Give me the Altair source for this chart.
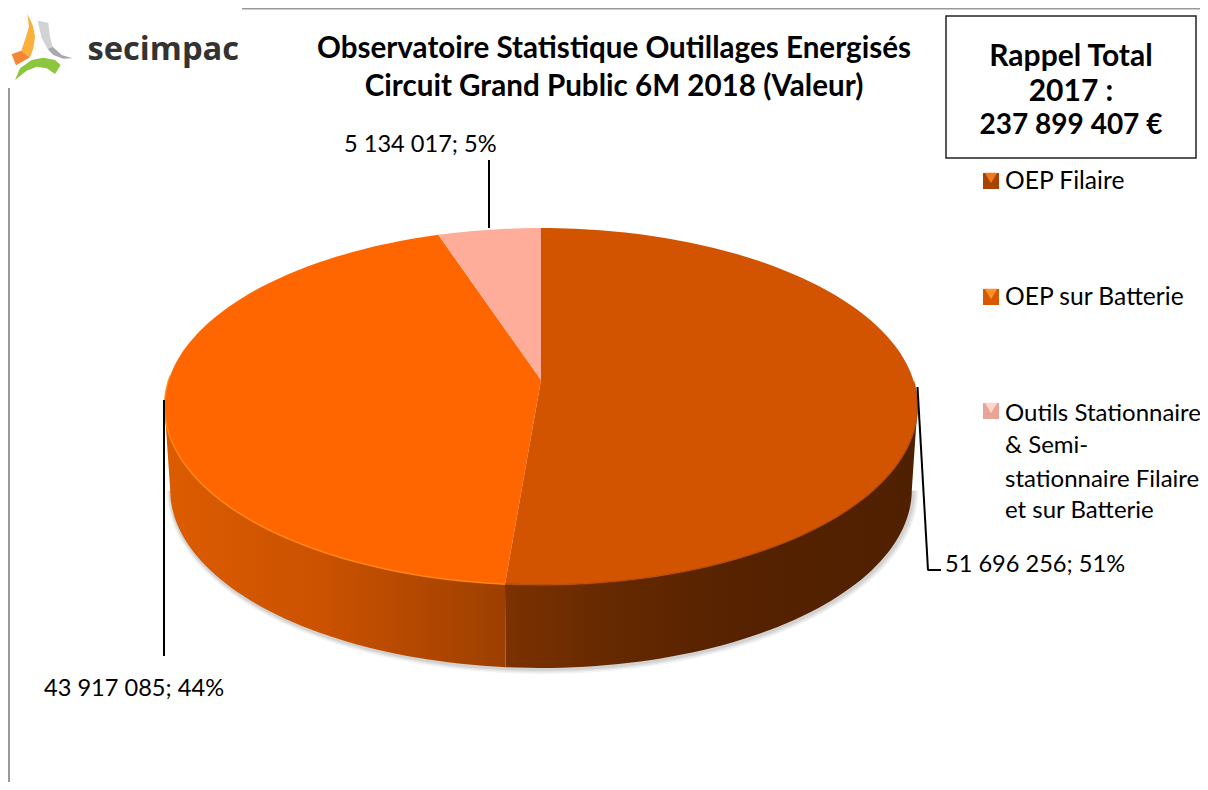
import numpy as np
import pandas as pd
import altair as alt

# ---- chart values ----
categories = ["OEP Filaire", "OEP sur Batterie", "Outils Stationnaire & Semi-stationnaire Filaire et sur Batterie"]
values = [51696256, 43917085, 5134017]
slice_colors = ["#D35400", "#FF6600", "#FFAD9B"]
title_lines = ["Observatoire Statistique Outillages Energisés", "Circuit Grand Public 6M 2018 (Valeur)"]
box_lines = ["Rappel Total", "2017 :", "237 899 407 €"]
label_texts = ["51 696 256; 51%", "43 917 085; 44%", "5 134 017; 5%"]
legend_lines = [["OEP Filaire"], ["OEP sur Batterie"],
                ["Outils Stationnaire", "& Semi-", "stationnaire Filaire", "et sur Batterie"]]

# ---- logo outlines (reference pixels x3) ----
logo_shapes = [
    ("#FBB03B", [(82,42),(98,75),(105,110),(100,145),(90,172),(64,152),(78,110),(87,80)]),
    ("#F58634", [(64,152),(90,172),(48,196),(35,163)]),
    ("#D2D3D5", [(113,62),(145,68),(150,110),(158,140),(143,147),(125,115)]),
    ("#A7A9AC", [(143,147),(158,140),(185,165),(218,175),(190,176),(160,165)]),
    ("#8CC63F", [(45,240),(60,205),(95,180),(130,173),(165,180),(182,195),(165,222),(140,205),(110,200),(80,212)]),
]

FONT = "Lato"
W, H = 1192, 774
A, B, CX, CY, K = 372.3, 174.5, 541.0, 380.0, 0.1486
DEPTH = 83.0 / B
SHRINK = 0.985

xscale = alt.Scale(domain=[(8 - CX) / A, (8 + W - CX) / A], nice=False, zero=False)
yscale = alt.Scale(domain=[(8 - CY) / B, (8 + H - CY) / B], nice=False, zero=False, reverse=True)


def rim(t0, t1, step=1.5):
    n = max(2, int(abs(t1 - t0) / step) + 1)
    t = np.radians(np.linspace(t0, t1, n))
    u, v = np.sin(t), -np.cos(t)
    w = 1 - K * v
    return u / w, v / w


def frame(px, py):
    return pd.DataFrame({"px": px, "py": py, "i": np.arange(len(px))})


def enc(ch):
    return ch.encode(
        x=alt.X("px:Q", scale=xscale, axis=None),
        y=alt.Y("py:Q", scale=yscale, axis=None),
        order="i:Q",
    )


def poly(px, py, fill):
    return enc(alt.Chart(frame(px, py)).mark_line(fill=fill, strokeWidth=0, stroke="transparent"))


def stroke(px, py, color, width, opacity=1.0):
    return enc(alt.Chart(frame(px, py)).mark_line(color=color, strokeWidth=width, opacity=opacity))


def grad(stops):
    return {"gradient": "linear", "x1": 0, "y1": 0, "x2": 1, "y2": 0,
            "stops": [{"offset": o, "color": c} for o, c in stops]}


def text(s, x, y, size, weight="normal", align="left", color="black", font=FONT):
    return alt.Chart(alt.Data(values=[{"t": s}])).mark_text(
        font=font, fontSize=size, fontWeight=weight, align=align, baseline="middle", color=color
    ).encode(x=alt.value(x - 8), y=alt.value(y - 6), text="t:N")


def rule(x1, y1, x2, y2, color="black", width=2):
    return alt.Chart(alt.Data(values=[{"a": 1}])).mark_rule(color=color, strokeWidth=width).encode(
        x=alt.value(x1 - 8), x2=alt.value(x2 - 8), y=alt.value(y1 - 8), y2=alt.value(y2 - 8))


layers = []

# frame rules
layers.append(rule(242, 8.7, 1200, 8.7, "#9A9A9A", 1.4))
layers.append(rule(9, 88, 9, 782, "#777777", 1.5))

# logo
for col, pts in logo_shapes:
    px = [(p[0] / 3 - CX) / A for p in pts]
    py = [(p[1] / 3 - CY) / B for p in pts]
    layers.append(poly(px, py, col))
layers.append(text("secimpac", 87.5, 48, 32.7, 700, color="#333333", font="Open Sans"))

# pie geometry from the values
total = sum(values)
ang = np.concatenate([[0], np.cumsum(values) / total * 360])
t_r = np.degrees(np.arccos(-K))
t_l = 360 - t_r
t_split = ang[1]

# shadow under the pie
sx, sy = rim(t_r, t_l)
for width, op, dx, dy in [(10, 0.07, 1.5, 1), (7, 0.09, 1.5, 1), (4, 0.13, 1, 1)]:
    layers.append(stroke(sx * SHRINK + dx / A, sy + DEPTH + dy / B, "#555555", width, op))

# walls
x1, y1 = rim(t_r, t_split)
layers.append(poly(np.r_[x1, x1[::-1] * SHRINK], np.r_[y1, y1[::-1] + DEPTH],
                   grad([(0, "#7C3100"), (0.25, "#662900"), (0.55, "#562200"), (1, "#4F2000")])))
x2, y2 = rim(t_split, t_l)
layers.append(poly(np.r_[x2, x2[::-1] * SHRINK], np.r_[y2, y2[::-1] + DEPTH],
                   grad([(0, "#DC5C00"), (0.45, "#CC5200"), (0.8, "#AE4600"), (1, "#9C3F00")])))

# top face
for a0, a1, col in zip(ang[:-1], ang[1:], slice_colors):
    rx, ry = rim(a0, a1)
    layers.append(poly(np.r_[0, rx, 0], np.r_[0, ry, 0], col))

# rim highlights
hx, hy = rim(t_split, t_l + 10)
layers.append(stroke(hx, hy, "#FF8A14", 1.5, 0.9))
hx, hy = rim(t_r - 8, t_split)
layers.append(stroke(hx, hy, "#A84400", 1.5, 0.7))

# leader lines
layers.append(rule(489, 160, 489, 228))
layers.append(rule(164, 400, 164, 656))
layers.append(rule(917.5, 387, 928, 570))
layers.append(rule(927.5, 570, 941, 570))

# data labels
layers.append(text(label_texts[0], 945, 563, 23.6))
layers.append(text(label_texts[1], 44, 687, 23.6))
layers.append(text(label_texts[2], 344, 143, 23.6))

# title
layers.append(text(title_lines[0], 614, 47, 29.6, "bold", "center"))
layers.append(text(title_lines[1], 614, 85, 29.6, "bold", "center"))

# box
layers.append(alt.Chart(alt.Data(values=[{"a": 1}])).mark_rect(fill="white", stroke="#222222", strokeWidth=1.5).encode(
    x=alt.value(946 - 8), x2=alt.value(1196 - 8), y=alt.value(16 - 8), y2=alt.value(158 - 8)))
for s, y, fs in zip(box_lines, [55, 90, 124], [30, 30, 28]):
    layers.append(text(s, 1071, y, fs, "bold", "center"))

# legend
marker_y = [181, 297, 411]
marker_base = ["#A84400", "#D85A00", "#E8A496"]
marker_top = ["#EE7A20", "#FF9228", "#FFD6CC"]
line_y = [[180], [296], [412, 444, 478, 509]]
line_fs = [24.6, 24.6, 24]
for lines, ys, my, mb, mt, fs in zip(legend_lines, line_y, marker_y, marker_base, marker_top, line_fs):
    d = alt.Data(values=[{"a": 1}])
    layers.append(alt.Chart(d).mark_point(shape="square", filled=True, color=mb, size=256, opacity=1).encode(
        x=alt.value(991 - 8), y=alt.value(my - 8)))
    layers.append(alt.Chart(d).mark_point(shape="triangle-down", filled=True, color=mt, size=150, opacity=1).encode(
        x=alt.value(991 - 8), y=alt.value(my - 3 - 8)))
    for s, y in zip(lines, ys):
        layers.append(text(s, 1005, y, fs))

chart = alt.layer(*layers).properties(
    width=W, height=H, padding=0, autosize=alt.AutoSizeParams(type="none"), background="white"
).configure_view(stroke=None)

chart.save("out.html", embed_options={"renderer": "svg", "actions": False})
